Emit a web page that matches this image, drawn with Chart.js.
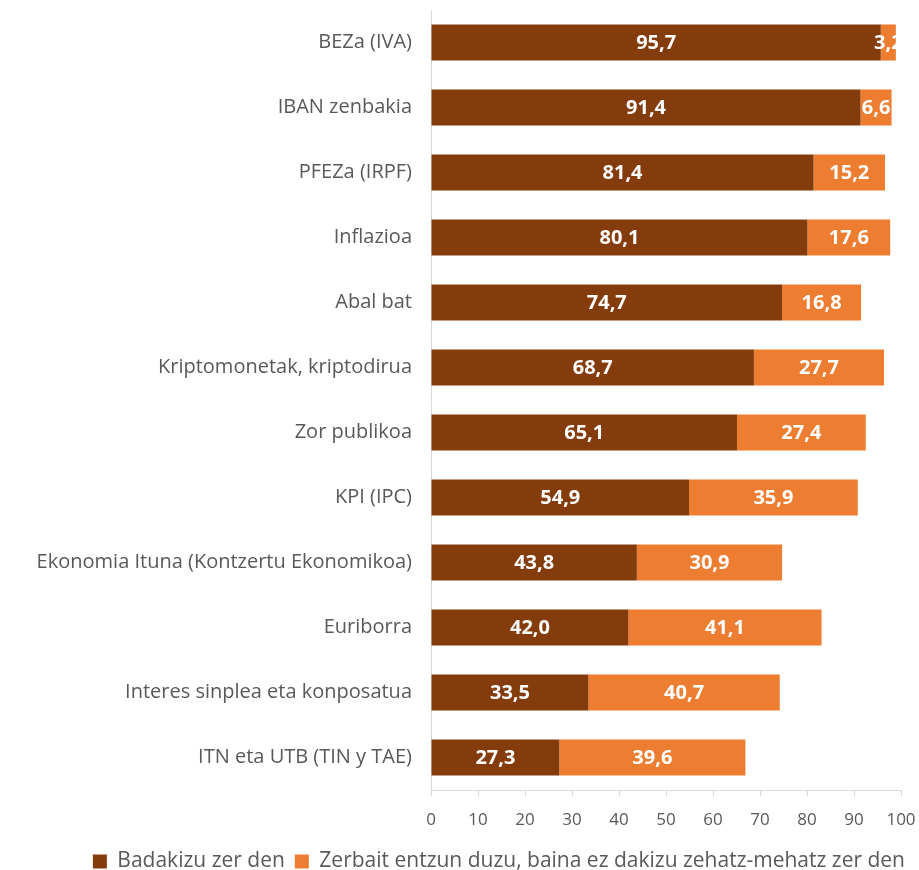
<!DOCTYPE html>
<html>
<head>
<meta charset="utf-8">
<script src="https://cdn.jsdelivr.net/npm/chart.js@4/dist/chart.umd.min.js"></script>
<style>
  html, body { margin: 0; padding: 0; background: #fff; overflow: hidden; }
  #wrap { width: 919px; height: 882px; }
</style>
</head>
<body>
<div id="wrap"><canvas id="chart"></canvas></div>
<script>
const categories = [
    'BEZa (IVA)',
    'IBAN zenbakia',
    'PFEZa (IRPF)',
    'Inflazioa',
    'Abal bat',
    'Kriptomonetak, kriptodirua',
    'Zor publikoa',
    'KPI (IPC)',
    'Ekonomia Ituna (Kontzertu Ekonomikoa)',
    'Euriborra',
    'Interes sinplea eta konposatua',
    'ITN eta UTB (TIN y TAE)'
];
const knowValues = [95.7, 91.4, 81.4, 80.1, 74.7, 68.7, 65.1, 54.9, 43.8, 42.0, 33.5, 27.3];
const heardValues = [3.2, 6.6, 15.2, 17.6, 16.8, 27.7, 27.4, 35.9, 30.9, 41.1, 40.7, 39.6];
const seriesNames = ['Badakizu zer den', 'Zerbait entzun duzu, baina ez dakizu zehatz-mehatz zer den'];
const xTicks = [0, 10, 20, 30, 40, 50, 60, 70, 80, 90, 100];

const FONT = '"Open Sans", sans-serif';

// white numbers centred in each bar segment
const barLabels = {
    id: 'barLabels',
    afterDatasetsDraw(chart) {
        const ctx = chart.ctx;
        ctx.save();
        ctx.fillStyle = '#ffffff';
        ctx.font = 'bold 20px ' + FONT;
        ctx.textAlign = 'center';
        ctx.textBaseline = 'middle';
        chart.data.datasets.forEach((ds, i) => {
            chart.getDatasetMeta(i).data.forEach((bar, j) => {
                const v = ds.data[j];
                const x = (bar.x + bar.base) / 2;
                ctx.fillText(v.toFixed(1).replace('.', ','), x, bar.y + 1);
            });
        });
        ctx.restore();
    }
};

new Chart(document.getElementById('chart').getContext('2d'), {
    type: 'bar',
    data: {
        labels: categories,
        datasets: [{
            label: seriesNames[0],
            data: knowValues,
            backgroundColor: '#843C0C',
            barPercentage: 0.555,
            categoryPercentage: 1
        }, {
            label: seriesNames[1],
            data: heardValues,
            backgroundColor: '#ED7D31',
            barPercentage: 0.555,
            categoryPercentage: 1
        }]
    },
    options: {
        indexAxis: 'y',
        responsive: true,
        maintainAspectRatio: false,
        animation: false,
        layout: { padding: { top: 0, right: 4, bottom: 0, left: 0 } },
        plugins: {
            legend: {
                position: 'bottom',
                align: 'end',
                labels: {
                    boxWidth: 14,
                    boxHeight: 14,
                    padding: 10,
                    color: '#595959',
                    font: { size: 21, family: FONT }
                }
            },
            tooltip: { enabled: false }
        },
        scales: {
            x: {
                stacked: true,
                min: 0,
                max: 100,
                afterBuildTicks: (s) => { s.ticks = xTicks.map(v => ({ value: v })); },
                afterFit: (s) => { s.height = 51; s.paddingRight = 18; },
                grid: { drawOnChartArea: false, drawTicks: true, tickLength: 6, color: '#d9d9d9' },
                border: { color: '#d9d9d9', width: 1 },
                ticks: { color: '#595959', padding: 14, font: { size: 17, family: FONT } }
            },
            y: {
                stacked: true,
                afterFit: (s) => { s.width = 431; s.paddingTop = 10; s.paddingBottom = 0; },
                grid: { display: false },
                border: { color: '#d9d9d9', width: 1 },
                ticks: { color: '#595959', padding: 11, font: { size: 20, family: FONT } }
            }
        }
    },
    plugins: [barLabels]
});
</script>
</body>
</html>
